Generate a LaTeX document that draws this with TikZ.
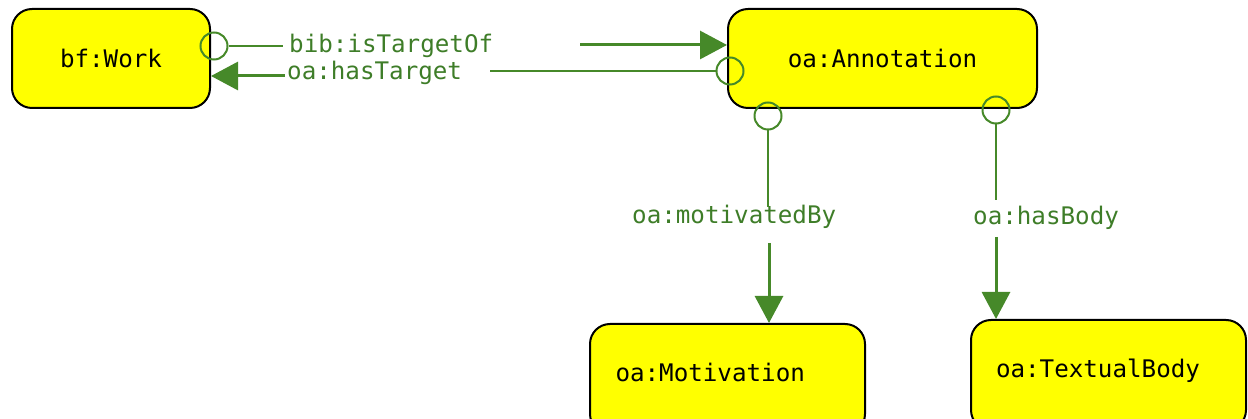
\documentclass[tikz,border=0pt]{standalone}
\usepackage{fontspec}
\setmonofont{DejaVu Sans Mono}
\usetikzlibrary{arrows.meta}
\definecolor{lgreen}{RGB}{70,137,41}
\definecolor{lbltext}{RGB}{62,125,40}
\definecolor{boxfill}{RGB}{255,255,0}
\begin{document}
\begin{tikzpicture}[x=1pt,y=-1pt,
  box/.style={draw=black, line width=2pt, fill=boxfill, rounded corners=20pt,
    font=\fontsize{24.2}{28}\selectfont\ttfamily, text height=18pt, text depth=0pt, inner sep=0pt},
  ring/.style={circle, draw=lgreen, line width=2pt, minimum size=27pt, inner sep=0pt},
  lbl/.style={text=lbltext, font=\fontsize{24.2}{28}\selectfont\ttfamily, inner sep=0pt, anchor=base west},
  thinln/.style={draw=lgreen, line width=2.2pt},
  thickln/.style={draw=lgreen, line width=3pt, -{Triangle[length=27pt,width=28pt]}}]
\useasboundingbox (0,0) rectangle (1248,419);
% boxes
\node[box, minimum width=198pt, minimum height=99pt] (work) at (111,58.5) {bf:Work};
\node[box, minimum width=309pt, minimum height=99pt] (ann) at (882.5,58.5) {oa:Annotation};
\node[box, minimum width=275pt, minimum height=110pt, text depth=12pt,
      text width=224pt, align=left, inner xsep=25.5pt] (mot) at (727.5,379) {oa:Motivation};
\node[box, minimum width=275pt, minimum height=110pt, text depth=12pt,
      text width=225pt, align=left, inner xsep=25pt] (body) at (1108.5,375) {oa:TextualBody};
% rings
\node[ring] (r1) at (214,46) {};
\node[ring] (r2) at (730,71) {};
\node[ring] (r3) at (768,116) {};
\node[ring] (r4) at (996,110) {};
% labels
\node[lbl] (l1) at (289,53) {bib:isTargetOf};
\node[lbl] (l2) at (287,80) {oa:hasTarget};
\node[lbl] (l3) at (632,224) {oa:motivatedBy};
\node[lbl] (l4) at (973,224.5) {oa:hasBody};
% free ends
\coordinate (e1) at (283,46);
\coordinate (s1) at (580,45);
\coordinate (e2) at (490,71);
\coordinate (s2) at (285,76);
\coordinate (e3) at (768,207);
\coordinate (s3) at (769,243);
\coordinate (e4) at (996,200);
\coordinate (s4) at (996,237);
% connectors
\draw[thinln] (r1) -- (e1);
\draw[thickln] (s1) -- (s1 -| ann.west);
\draw[thinln] (r2) -- (e2);
\draw[thickln] (s2) -- (s2 -| work.east);
\draw[thinln] (r3) -- (e3);
\draw[thickln] (s3) -- (s3 |- mot.north);
\draw[thinln] (r4) -- (e4);
\draw[thickln] (s4) -- (s4 |- body.north);
\end{tikzpicture}
\end{document}
